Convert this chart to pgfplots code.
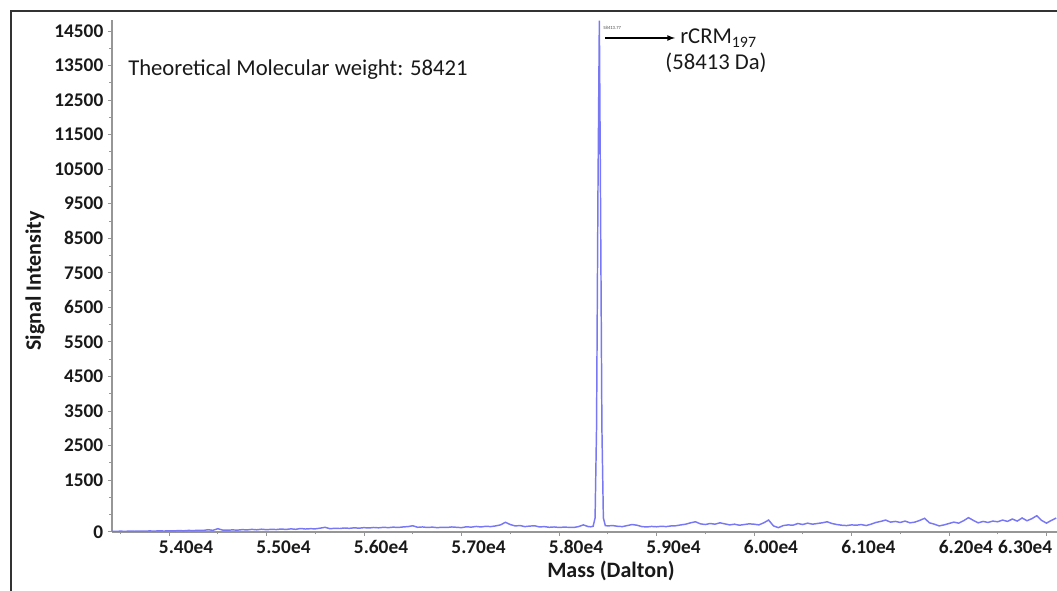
\documentclass[border=0pt]{standalone}
\usepackage{fontspec}
\setmainfont{Carlito}
\usepackage{pgfplots}
\pgfplotsset{compat=1.18}
\definecolor{specblue}{RGB}{120,120,245}
\definecolor{axgray}{RGB}{150,150,150}
\definecolor{txt}{RGB}{25,25,25}
\begin{document}
\begin{tikzpicture}
\begin{axis}[
  at={(0,0)}, anchor=south west,
  scale only axis, width=708.75pt, height=383.85pt,
  xmin=53415, xmax=63108, ymin=0, ymax=14818,
  scaled ticks=false,
  axis x line=bottom, axis y line=left,
  axis line style={axgray, line width=1.1pt, -},
  tick style={axgray, line width=0.6pt},
  tick align=outside,
  major tick length=3pt, minor tick length=2pt,
  xtick={54000,55000,56000,57000,58000,59000,60000,61000,62000},
  xticklabels={5.40e4,5.50e4,5.60e4,5.70e4,5.80e4,5.90e4,6.00e4,6.10e4,6.20e4},
  minor xtick={53500,54500,55500,56500,57500,58500,59500,60500,61500,62500},
  extra x ticks={63000},
  extra x tick labels={6.30e4},
  extra x tick style={xticklabel style={xshift=-28.75pt}},
  xticklabel style={xshift=12.75pt},
  ytick={0,1500,2500,3500,4500,5500,6500,7500,8500,9500,10500,11500,12500,13500,14500},
  yticklabels={0,1500,2500,3500,4500,5500,6500,7500,8500,9500,10500,11500,12500,13500,14500},
  minor ytick={500,1000,2000,3000,4000,5000,6000,7000,8000,9000,10000,11000,12000,13000,14000},
  ticklabel style={font=\fontsize{14.5}{16}\selectfont\bfseries, text=txt},
]
\addplot[specblue, line width=1.1pt] coordinates {
(53400,15) (53450,12) (53500,18) (53550,14) (53600,20) (53650,16) (53700,22) (53750,18)
(53800,25) (53850,20) (53900,28) (53950,22) (54000,30) (54050,26) (54100,35) (54150,28)
(54200,40) (54250,34) (54300,45) (54350,38) (54400,60) (54450,42) (54500,90) (54550,50)
(54600,45) (54650,55) (54700,48) (54750,62) (54800,55) (54850,70) (54900,58) (54950,75)
(55000,60) (55050,72) (55100,65) (55150,80) (55200,68) (55250,85) (55300,72) (55350,95)
(55400,80) (55450,90) (55500,85) (55550,105) (55600,130) (55650,90) (55700,100) (55750,95)
(55800,110) (55850,100) (55900,115) (55950,105) (56000,120) (56050,110) (56100,125) (56150,115)
(56200,130) (56250,120) (56300,135) (56350,125) (56400,140) (56450,150) (56500,175) (56550,130)
(56600,140) (56650,125) (56700,135) (56750,120) (56800,130) (56850,125) (56900,140) (56950,130)
(57000,120) (57050,145) (57100,135) (57150,155) (57200,140) (57250,160) (57300,150) (57350,170)
(57400,200) (57450,275) (57500,210) (57550,170) (57600,180) (57650,150) (57700,165) (57750,175)
(57800,140) (57850,150) (57900,130) (57950,140) (58000,125) (58050,135) (58100,130) (58150,125)
(58200,150) (58250,200) (58300,150) (58325,145) (58350,160) (58370,400) (58385,3000) (58400,10000)
(58413.77,14800) (58425,10000) (58440,3000) (58455,400) (58475,180) (58500,170) (58550,180) (58600,160)
(58650,150) (58700,180) (58750,210) (58800,190) (58850,150) (58900,140) (58950,155) (59000,145)
(59050,160) (59100,150) (59150,170) (59200,175) (59250,200) (59300,220) (59350,260) (59400,290)
(59450,230) (59500,210) (59550,240) (59600,220) (59650,260) (59700,230) (59750,200) (59800,220)
(59850,190) (59900,210) (59950,230) (60000,220) (60050,200) (60100,260) (60150,340) (60200,170)
(60250,120) (60300,180) (60350,200) (60400,190) (60450,240) (60500,210) (60550,250) (60600,220)
(60650,240) (60700,260) (60750,290) (60800,240) (60850,210) (60900,190) (60950,180) (61000,200)
(61050,190) (61100,210) (61150,180) (61200,220) (61250,270) (61300,300) (61350,340) (61400,280)
(61450,300) (61500,270) (61550,310) (61600,260) (61650,280) (61700,330) (61750,390) (61800,260)
(61850,220) (61900,170) (61950,200) (62000,240) (62050,280) (62100,250) (62150,320) (62200,410)
(62250,330) (62300,260) (62350,300) (62400,270) (62450,310) (62500,290) (62550,340) (62600,300)
(62650,370) (62700,310) (62750,400) (62800,320) (62850,380) (62900,465) (62950,330) (63000,250)
(63050,330) (63100,400)
};
\end{axis}
% frame of the screenshot
\draw[black!80, line width=1.2pt] (-75.75pt,-44.4pt) -- (-75.75pt,390.6pt) -- (708.75pt,390.6pt);
% annotations
\node[anchor=west, inner sep=0pt, text=txt, font=\fontsize{17}{19}\selectfont] at (12pt,346.35pt) {Theoretical Molecular weight: 58421};
\draw[-latex, line width=1pt] (369.75pt,370.35pt) -- (422.25pt,370.35pt);
\node[anchor=west, inner sep=0pt, text=txt, font=\fontsize{17}{19}\selectfont] at (426pt,370.35pt) {rCRM\textsubscript{197}};
\node[inner sep=0pt, text=txt, font=\fontsize{17}{19}\selectfont] at (453pt,351.6pt) {(58413 Da)};
\node[anchor=west, inner sep=0pt, text=black!70, font=\fontsize{3.5}{4}\selectfont] at (368.25pt,377.85pt) {58413.77};
\node[text=txt, font=\fontsize{16.5}{18}\selectfont\bfseries] at (374.25pt,-29.4pt) {Mass (Dalton)};
\node[rotate=90, text=txt, font=\fontsize{16.5}{18}\selectfont\bfseries] at (-57.75pt,188.1pt) {Signal Intensity};
\pgfresetboundingbox
\path[use as bounding box] (-84pt,-44.4pt) rectangle (708.75pt,398.85pt);
\end{tikzpicture}
\end{document}
